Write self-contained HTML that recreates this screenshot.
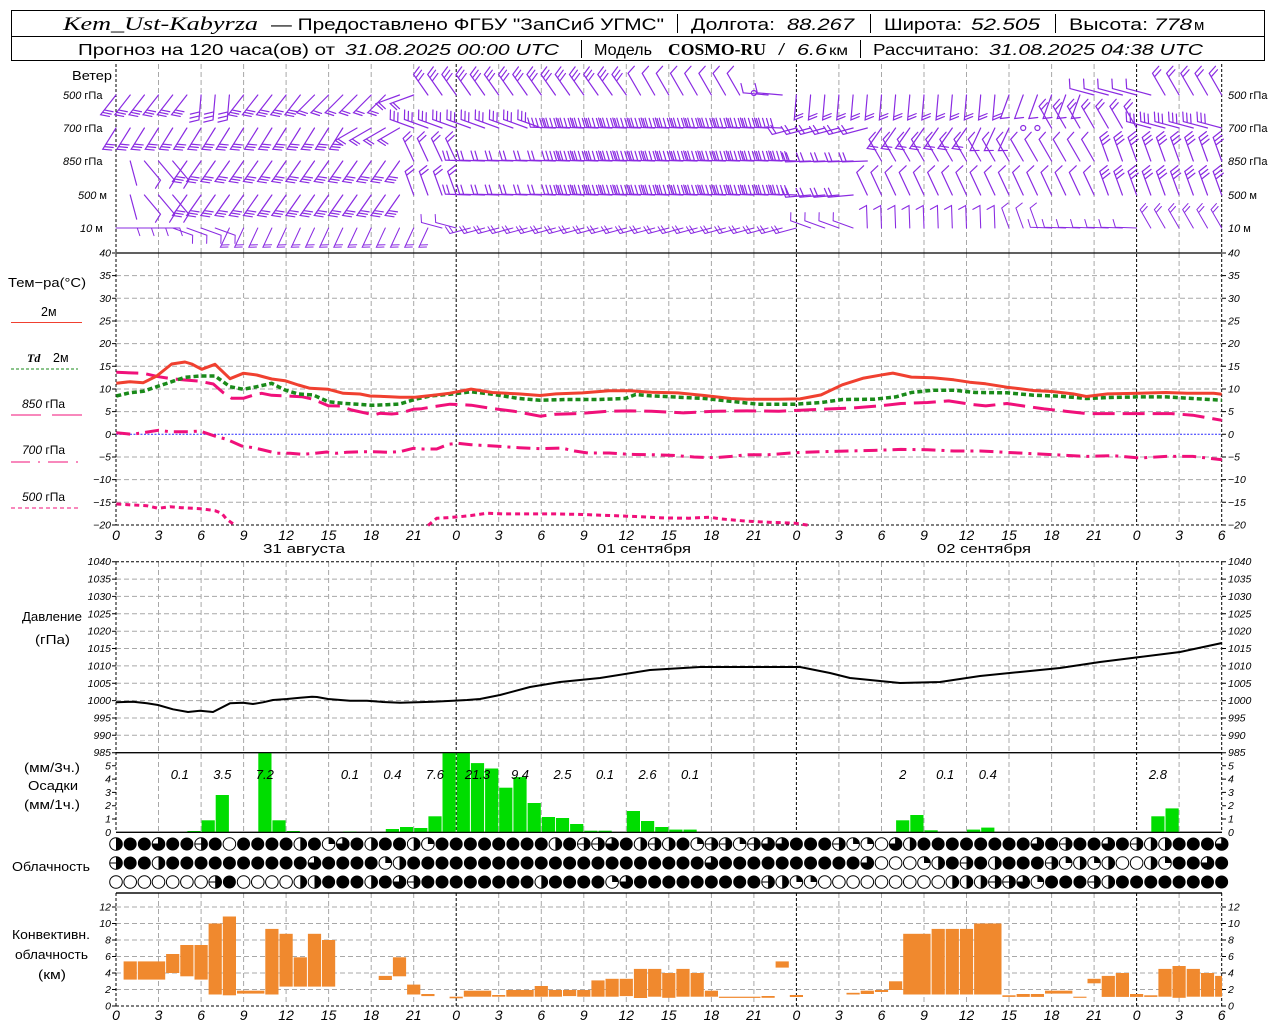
<!DOCTYPE html>
<html><head><meta charset="utf-8"><style>
body{margin:0;background:#fff}
svg{display:block}
text{font-family:"Liberation Sans",sans-serif;fill:#000}
.n{font-style:italic;font-size:10.5px}
.nr{font-style:italic;font-size:10.5px;text-anchor:end}
.h{font-style:italic;font-size:14px;text-anchor:middle}
.l{font-size:12.5px}
.g{stroke:#a8a8a8;stroke-dasharray:5 3;stroke-width:1;fill:none}
.d{stroke:#000;stroke-dasharray:3 2;stroke-width:1;fill:none}
.bb{stroke:#8a2be2;stroke-width:1.2;fill:none;stroke-linecap:round}
.pv{font-style:italic;font-size:13px;text-anchor:middle}
</style></head><body>
<svg width="1280" height="1024" viewBox="0 0 1280 1024" xmlns="http://www.w3.org/2000/svg">
<defs>
<path id="a0" d="M0 0H25"/>
<path id="a1" d="M0 0H25l-4-8"/>
<path id="a2" d="M0 0H25l-4-8M22 0l-4-8"/>
<path id="a3" d="M0 0H25l-4-8M22 0l-4-8M19 0l-4-8"/>
<path id="c1" d="M0 0H25l3 9"/>
<path id="c2" d="M0 0H25l3 9M21 0l3 9"/>
<path id="c3" d="M0 0H25l3 9M21 0l3 9M17 0l3 9"/>
<path id="c5" d="M0 0H25l3 9M21 0l3 9M17 0l3 9M13 0l3 9M9 0l3 9"/>
<g id="p1" transform="rotate(128)"><use href="#a3"/></g>
<g id="p2" transform="rotate(95)"><use href="#c3"/></g>
<g id="p3" transform="rotate(135)"><use href="#a2"/></g>
<g id="p4" transform="rotate(160)"><use href="#a2"/></g>
<g id="p5" transform="rotate(235)"><use href="#c3"/></g>
<g id="p6" transform="rotate(240)"><use href="#c1"/></g>
<g id="p7" transform="rotate(185)"><use href="#c1"/></g>
<g id="p8" transform="rotate(95)"><use href="#a2"/></g>
<g id="p9" transform="rotate(110)"><use href="#a1"/></g>
<g id="p10" transform="rotate(195)"><use href="#c1"/></g>
<g id="p11" transform="rotate(240)"><use href="#c2"/></g>
<g id="s1" transform="rotate(122)"><use href="#a3"/></g>
<g id="s2" transform="rotate(150)"><use href="#a2"/></g>
<g id="s3" transform="rotate(200)"><use href="#c3"/></g>
<g id="s4" transform="rotate(182)"><use href="#c5"/></g>
<g id="s5" transform="rotate(165)"><use href="#c2"/></g>
<g id="s6" transform="rotate(125)"><use href="#a2"/></g>
<g id="s7" transform="rotate(115)"><use href="#a1"/></g>
<g id="s8" transform="rotate(240)"><use href="#c2"/></g>
<g id="s9" transform="rotate(195)"><use href="#c3"/></g>
<g id="t0" transform="rotate(75)"><use href="#a0"/></g>
<g id="tb" transform="rotate(50)"><use href="#c1"/></g>
<g id="t1" transform="rotate(125)"><use href="#a3"/></g>
<g id="t2" transform="rotate(245)"><use href="#c2"/></g>
<g id="tc" transform="rotate(182)"><use href="#c2"/></g>
<g id="t3" transform="rotate(182)"><use href="#c5"/></g>
<g id="t4" transform="rotate(178)"><use href="#c2"/></g>
<g id="t5" transform="rotate(240)"><use href="#c1"/></g>
<g id="t6" transform="rotate(250)"><use href="#c3"/></g>
<g id="u2" transform="rotate(250)"><use href="#c2"/></g>
<g id="u4" transform="rotate(175)"><use href="#c2"/></g>
<g id="u5" transform="rotate(245)"><use href="#c1"/></g>
<g id="w1" transform="scale(0.85)"><use href="#c1"/></g>
<g id="w2" transform="rotate(20) scale(0.85)"><use href="#c1"/></g>
<g id="w3" transform="rotate(115) scale(0.85)"><use href="#a2"/></g>
<g id="w4" transform="rotate(195) scale(0.85)"><use href="#c1"/></g>
<g id="w5" transform="rotate(165) scale(0.85)"><use href="#c2"/></g>
<g id="w6" transform="rotate(200) scale(0.85)"><use href="#c1"/></g>
<g id="w7" transform="rotate(268) scale(0.9)"><use href="#a1"/></g>
<g id="w8" transform="rotate(250) scale(0.85)"><use href="#c1"/></g>
<g id="w9" transform="rotate(182) scale(0.85)"><use href="#c1"/></g>
<g id="w10" transform="rotate(240) scale(0.85)"><use href="#c2"/></g>
<g id="E"><circle r="6.3" fill="#fff" stroke="#000"/></g>
<g id="H"><circle r="6.3" fill="#fff" stroke="#000"/><path d="M0-6.3A6.3 6.3 0 0 1 0 6.3Z" fill="#000"/></g>
<g id="Q"><circle r="6.3" fill="#000" stroke="#000"/><path d="M0 0H-6.3A6.3 6.3 0 0 1 0-6.3Z" fill="#fff" stroke="#000"/></g>
<g id="q"><circle r="6.3" fill="#fff" stroke="#000"/><path d="M0 0V-6.3A6.3 6.3 0 0 1 6.3 0Z" fill="#000"/></g>
<g id="T"><circle r="6.3" fill="#fff" stroke="#000"/><path d="M0-6.3A6.3 6.3 0 0 1 0 6.3Z" fill="#000"/><path d="M-6.3 0H6.3" stroke="#000"/></g>
</defs>
<rect width="1280" height="1024" fill="#fff"/>

<!-- Header -->
<rect x="11.5" y="10.5" width="1253" height="50" fill="none" stroke="#000"/>
<path d="M11 36.5H1265" stroke="#000"/>
<text x="63" y="30" font-size="19" font-style="italic" textLength="195" lengthAdjust="spacingAndGlyphs" style="font-family:'Liberation Serif',serif">Kem_Ust-Kabyrza</text>
<text x="271" y="30" font-size="17" textLength="393" lengthAdjust="spacingAndGlyphs">— Предоставлено ФГБУ "ЗапСиб УГМС"</text>
<path d="M677.5 14V33M870.5 14V33M1055.5 14V33M581.5 40V58M860.5 40V58" stroke="#000"/>
<text x="691" y="30" font-size="17" textLength="84" lengthAdjust="spacingAndGlyphs">Долгота:</text>
<text x="787" y="30" font-size="17" font-style="italic" textLength="67" lengthAdjust="spacingAndGlyphs">88.267</text>
<text x="884" y="30" font-size="17" textLength="78" lengthAdjust="spacingAndGlyphs">Широта:</text>
<text x="971" y="30" font-size="17" font-style="italic" textLength="69" lengthAdjust="spacingAndGlyphs">52.505</text>
<text x="1069" y="30" font-size="17" textLength="79" lengthAdjust="spacingAndGlyphs">Высота:</text>
<text x="1154" y="30" font-size="17" font-style="italic" textLength="38" lengthAdjust="spacingAndGlyphs">778</text>
<text x="1194" y="30" font-size="15">м</text>
<text x="78" y="55" font-size="16" textLength="257" lengthAdjust="spacingAndGlyphs">Прогноз на 120 часа(ов) от</text>
<text x="345" y="55" font-size="16" font-style="italic" textLength="214" lengthAdjust="spacingAndGlyphs">31.08.2025 00:00 UTC</text>
<text x="594" y="55" font-size="16" textLength="58" lengthAdjust="spacingAndGlyphs">Модель</text>
<text x="668" y="55" font-size="17" font-weight="bold" textLength="98" lengthAdjust="spacingAndGlyphs" style="font-family:'Liberation Serif',serif">COSMO-RU</text>
<text x="779" y="55" font-size="17" font-style="italic">/</text>
<text x="797" y="55" font-size="16" font-style="italic" textLength="30" lengthAdjust="spacingAndGlyphs">6.6</text>
<text x="829" y="55" font-size="14" textLength="19" lengthAdjust="spacingAndGlyphs">км</text>
<text x="873" y="55" font-size="16" textLength="106" lengthAdjust="spacingAndGlyphs">Рассчитано:</text>
<text x="989" y="55" font-size="16" font-style="italic" textLength="214" lengthAdjust="spacingAndGlyphs">31.08.2025 04:38 UTC</text>

<!-- Vertical grids -->
<g class="g">
<path d="M158.5 64V253M201.1 64V253M243.6 64V253M286.1 64V253M328.6 64V253M371.2 64V253M413.7 64V253M498.7 64V253M541.3 64V253M583.8 64V253M626.3 64V253M668.8 64V253M711.4 64V253M753.9 64V253M838.9 64V253M881.5 64V253M924 64V253M966.5 64V253M1009 64V253M1051.6 64V253M1094.1 64V253M1179.1 64V253"/>
<path d="M158.5 253V525M201.1 253V525M243.6 253V525M286.1 253V525M328.6 253V525M371.2 253V525M413.7 253V525M498.7 253V525M541.3 253V525M583.8 253V525M626.3 253V525M668.8 253V525M711.4 253V525M753.9 253V525M838.9 253V525M881.5 253V525M924 253V525M966.5 253V525M1009 253V525M1051.6 253V525M1094.1 253V525M1179.1 253V525"/>
<path d="M158.5 562V832M201.1 562V832M243.6 562V832M286.1 562V832M328.6 562V832M371.2 562V832M413.7 562V832M498.7 562V832M541.3 562V832M583.8 562V832M626.3 562V832M668.8 562V832M711.4 562V832M753.9 562V832M838.9 562V832M881.5 562V832M924 562V832M966.5 562V832M1009 562V832M1051.6 562V832M1094.1 562V832M1179.1 562V832"/>
<path d="M158.5 893V1006M201.1 893V1006M243.6 893V1006M286.1 893V1006M328.6 893V1006M371.2 893V1006M413.7 893V1006M498.7 893V1006M541.3 893V1006M583.8 893V1006M626.3 893V1006M668.8 893V1006M711.4 893V1006M753.9 893V1006M838.9 893V1006M881.5 893V1006M924 893V1006M966.5 893V1006M1009 893V1006M1051.6 893V1006M1094.1 893V1006M1179.1 893V1006"/>
<path d="M116 275.6H1222M116 298.3H1222M116 321H1222M116 343.6H1222M116 366.3H1222M116 389H1222M116 411.6H1222M116 457H1222M116 479.6H1222M116 502.3H1222"/>
<path d="M116 579.1H1222M116 596.4H1222M116 613.8H1222M116 631.2H1222M116 648.5H1222M116 665.9H1222M116 683.3H1222M116 700.6H1222M116 718H1222M116 735.3H1222"/>
<path d="M116 907H1222M116 923.5H1222M116 940H1222M116 956.5H1222M116 973H1222M116 989.5H1222"/>
</g>
<!-- day lines / axes -->
<g class="d">
<path d="M116 64V525M456.2 64V525M796.4 64V525M1136.6 64V525M1221.7 64V525"/>
<path d="M116 562V832M456.2 562V832M796.4 562V832M1136.6 562V832M1221.7 562V832"/>
<path d="M116 893V1006M456.2 893V1006M796.4 893V1006M1136.6 893V1006M1221.7 893V1006"/>
<path d="M116 525H1222M116 561.7H1222M116 1006H1222"/>
</g>
<path d="M116 253H1222M116 752.7H1222M116 832.3H1222M116 893H1222" stroke="#000" stroke-width="1.2"/>
<path d="M116 434.3H1222" stroke="#2a2aff" stroke-dasharray="2 1.5"/>
<!-- ticks -->
<path stroke="#000" d="M112 253H116M112 275.6H116M112 298.3H116M112 321H116M112 343.6H116M112 366.3H116M112 389H116M112 411.6H116M112 434.3H116M112 457H116M112 479.6H116M112 502.3H116M112 525H116M1222 253H1226M1222 275.6H1226M1222 298.3H1226M1222 321H1226M1222 343.6H1226M1222 366.3H1226M1222 389H1226M1222 411.6H1226M1222 434.3H1226M1222 457H1226M1222 479.6H1226M1222 502.3H1226M1222 525H1226M112 561.7H116M112 579.1H116M112 596.4H116M112 613.8H116M112 631.2H116M112 648.5H116M112 665.9H116M112 683.3H116M112 700.6H116M112 718H116M112 735.3H116M112 752.7H116M1222 561.7H1226M1222 579.1H1226M1222 596.4H1226M1222 613.8H1226M1222 631.2H1226M1222 648.5H1226M1222 665.9H1226M1222 683.3H1226M1222 700.6H1226M1222 718H1226M1222 735.3H1226M1222 752.7H1226M112 765.8H116M112 779.1H116M112 792.4H116M112 805.7H116M112 819H116M1222 765.8H1226M1222 779.1H1226M1222 792.4H1226M1222 805.7H1226M1222 819H1226M112 907H116M112 923.5H116M112 940H116M112 956.5H116M112 973H116M112 989.5H116M112 1006H116M1222 907H1226M1222 923.5H1226M1222 940H1226M1222 956.5H1226M1222 973H1226M1222 989.5H1226M1222 1006H1226"/>

<!-- Wind labels -->
<text class="l" x="72" y="80" textLength="40" lengthAdjust="spacingAndGlyphs">Ветер</text>
<g font-size="11">
<text x="63" y="99"><tspan font-style="italic">500</tspan> гПа</text>
<text x="63" y="132"><tspan font-style="italic">700</tspan> гПа</text>
<text x="63" y="165"><tspan font-style="italic">850</tspan> гПа</text>
<text x="78" y="199"><tspan font-style="italic">500</tspan>  м</text>
<text x="80" y="232"><tspan font-style="italic">10</tspan>   м</text>
<text x="1228" y="99"><tspan font-style="italic">500</tspan> гПа</text>
<text x="1228" y="132"><tspan font-style="italic">700</tspan> гПа</text>
<text x="1228" y="165"><tspan font-style="italic">850</tspan> гПа</text>
<text x="1228" y="199"><tspan font-style="italic">500</tspan>  м</text>
<text x="1228" y="232"><tspan font-style="italic">10</tspan>   м</text>
</g>

<!-- Wind barbs -->
<g class="bb">
<g transform="translate(0,95)">
<use href="#p1" x="116"/><use href="#p1" x="130.2"/><use href="#p1" x="144.4"/><use href="#p1" x="158.5"/><use href="#p1" x="172.7"/><use href="#p1" x="186.9"/>
<use href="#p2" x="201.1"/><use href="#p2" x="215.2"/><use href="#p2" x="229.4"/><use href="#p1" x="243.6"/>
<use href="#p1" x="257.8"/><use href="#p1" x="271.9"/><use href="#p1" x="286.1"/><use href="#p1" x="300.3"/>
<use href="#p3" x="314.5"/><use href="#p3" x="328.6"/><use href="#p3" x="342.8"/><use href="#p3" x="357"/><use href="#p3" x="371.2"/><use href="#p3" x="385.3"/>
<use href="#p4" x="399.5"/><use href="#p4" x="413.7"/><use href="#p5" x="427.9"/><use href="#p5" x="442"/>
<use href="#p5" x="456.2"/><use href="#p5" x="470.4"/><use href="#p5" x="484.6"/><use href="#p5" x="498.7"/><use href="#p5" x="512.9"/><use href="#p5" x="527.1"/><use href="#p5" x="541.3"/><use href="#p5" x="555.4"/><use href="#p5" x="569.6"/><use href="#p5" x="583.8"/><use href="#p5" x="598"/><use href="#p5" x="612.1"/><use href="#p5" x="626.3"/>
<use href="#p6" x="640.5"/><use href="#p6" x="654.7"/><use href="#p6" x="668.8"/><use href="#p6" x="683"/><use href="#p6" x="697.2"/><use href="#p6" x="711.4"/><use href="#p6" x="725.5"/><use href="#p6" x="739.7"/>
<circle cx="753.9" cy="-2" r="2.5"/>
<use href="#p7" x="768.1"/><use href="#p7" x="782.2"/>
<use href="#p8" x="796.4"/><use href="#p8" x="810.6"/><use href="#p8" x="824.8"/><use href="#p8" x="838.9"/><use href="#p8" x="853.1"/><use href="#p8" x="867.3"/><use href="#p8" x="881.5"/><use href="#p8" x="895.6"/><use href="#p8" x="909.8"/><use href="#p8" x="924"/><use href="#p8" x="938.2"/><use href="#p8" x="952.3"/><use href="#p8" x="966.5"/><use href="#p8" x="980.7"/><use href="#p8" x="994.9"/>
<use href="#p9" x="1009"/><use href="#p9" x="1023.2"/><use href="#p9" x="1037.4"/><use href="#p9" x="1051.6"/><use href="#p9" x="1065.7"/><use href="#p9" x="1079.9"/>
<use href="#p10" x="1094.1"/><use href="#p10" x="1108.3"/><use href="#p10" x="1122.4"/><use href="#p10" x="1136.6"/><use href="#p10" x="1150.8"/>
<use href="#p11" x="1165"/><use href="#p11" x="1179.1"/><use href="#p11" x="1193.3"/><use href="#p11" x="1207.5"/><use href="#p11" x="1221.7"/>
</g>
<g transform="translate(0,128)">
<use href="#s1" x="116"/><use href="#s1" x="130.2"/><use href="#s1" x="144.4"/><use href="#s1" x="158.5"/><use href="#s1" x="172.7"/><use href="#s1" x="186.9"/><use href="#s1" x="201.1"/><use href="#s1" x="215.2"/><use href="#s1" x="229.4"/><use href="#s1" x="243.6"/><use href="#s1" x="257.8"/><use href="#s1" x="271.9"/><use href="#s1" x="286.1"/><use href="#s1" x="300.3"/><use href="#s1" x="314.5"/><use href="#s1" x="328.6"/><use href="#s1" x="342.8"/>
<use href="#s2" x="357"/><use href="#s2" x="371.2"/><use href="#s2" x="385.3"/><use href="#s2" x="399.5"/>
<use href="#s3" x="413.7"/><use href="#s3" x="427.9"/><use href="#s3" x="442"/>
<use href="#s3" x="456.2"/><use href="#s3" x="470.4"/><use href="#s3" x="484.6"/><use href="#s3" x="498.7"/><use href="#s3" x="512.9"/><use href="#s3" x="527.1"/><use href="#s3" x="541.3"/><use href="#s4" x="555.4"/><use href="#s4" x="569.6"/><use href="#s4" x="583.8"/><use href="#s4" x="598"/><use href="#s4" x="612.1"/><use href="#s4" x="626.3"/><use href="#s4" x="640.5"/><use href="#s4" x="654.7"/><use href="#s4" x="668.8"/><use href="#s4" x="683"/><use href="#s4" x="697.2"/><use href="#s4" x="711.4"/><use href="#s4" x="725.5"/><use href="#s4" x="739.7"/><use href="#s4" x="753.9"/><use href="#s4" x="768.1"/><use href="#s4" x="782.2"/>
<use href="#s5" x="796.4"/><use href="#s5" x="810.6"/><use href="#s5" x="824.8"/><use href="#s5" x="838.9"/><use href="#s5" x="853.1"/><use href="#s5" x="867.3"/>
<use href="#s6" x="881.5"/><use href="#s6" x="895.6"/><use href="#s6" x="909.8"/><use href="#s6" x="924"/><use href="#s6" x="938.2"/><use href="#s6" x="952.3"/><use href="#s6" x="966.5"/>
<use href="#s7" x="980.7"/><use href="#s7" x="994.9"/><use href="#s7" x="1009"/>
<circle cx="1023.2" cy="0" r="2.5"/><circle cx="1037.4" cy="0" r="2.5"/>
<use href="#s8" x="1051.6"/><use href="#s8" x="1065.7"/><use href="#s8" x="1079.9"/><use href="#s8" x="1094.1"/><use href="#s8" x="1108.3"/><use href="#s8" x="1122.4"/><use href="#s8" x="1136.6"/>
<use href="#s9" x="1150.8"/><use href="#s9" x="1165"/><use href="#s9" x="1179.1"/><use href="#s9" x="1193.3"/><use href="#s9" x="1207.5"/><use href="#s9" x="1221.7"/>
</g>
<g transform="translate(0,161)">
<use href="#t0" x="130.2"/><use href="#tb" x="144.4"/><use href="#tb" x="158.5"/><use href="#tb" x="172.7"/>
<use href="#t1" x="186.9"/><use href="#t1" x="201.1"/><use href="#t1" x="215.2"/><use href="#t1" x="229.4"/><use href="#t1" x="243.6"/><use href="#t1" x="257.8"/><use href="#t1" x="271.9"/><use href="#t1" x="286.1"/><use href="#t1" x="300.3"/><use href="#t1" x="314.5"/><use href="#t1" x="328.6"/><use href="#t1" x="342.8"/><use href="#t1" x="357"/><use href="#t1" x="371.2"/><use href="#t1" x="385.3"/><use href="#t1" x="399.5"/>
<use href="#t2" x="413.7"/><use href="#t2" x="427.9"/><use href="#t2" x="442"/>
<use href="#t2" x="456.2"/><use href="#tc" x="470.4"/><use href="#tc" x="484.6"/><use href="#tc" x="498.7"/><use href="#tc" x="512.9"/><use href="#tc" x="527.1"/><use href="#tc" x="541.3"/><use href="#tc" x="555.4"/><use href="#t3" x="569.6"/><use href="#t3" x="583.8"/><use href="#t3" x="598"/><use href="#t3" x="612.1"/><use href="#t3" x="626.3"/><use href="#t3" x="640.5"/><use href="#t3" x="654.7"/><use href="#t3" x="668.8"/><use href="#t3" x="683"/><use href="#t3" x="697.2"/><use href="#t3" x="711.4"/><use href="#t3" x="725.5"/><use href="#t3" x="739.7"/><use href="#t3" x="753.9"/><use href="#t3" x="768.1"/><use href="#t3" x="782.2"/><use href="#t3" x="796.4"/>
<use href="#t4" x="810.6"/><use href="#t4" x="824.8"/><use href="#t4" x="838.9"/><use href="#t4" x="853.1"/><use href="#t4" x="867.3"/>
<use href="#t5" x="881.5"/><use href="#t5" x="895.6"/><use href="#t5" x="909.8"/><use href="#t5" x="924"/><use href="#t5" x="938.2"/><use href="#t5" x="952.3"/><use href="#t5" x="966.5"/><use href="#t5" x="980.7"/><use href="#t5" x="994.9"/><use href="#t5" x="1009"/><use href="#t5" x="1023.2"/><use href="#t5" x="1037.4"/><use href="#t5" x="1051.6"/><use href="#t5" x="1065.7"/><use href="#t5" x="1079.9"/><use href="#t5" x="1094.1"/>
<use href="#t6" x="1108.3"/><use href="#t6" x="1122.4"/><use href="#t6" x="1136.6"/><use href="#t6" x="1150.8"/><use href="#t6" x="1165"/><use href="#t6" x="1179.1"/><use href="#t6" x="1193.3"/><use href="#t6" x="1207.5"/><use href="#t6" x="1221.7"/>
</g>
<g transform="translate(0,195)">
<use href="#t0" x="130.2"/><use href="#tb" x="144.4"/><use href="#tb" x="158.5"/><use href="#tb" x="172.7"/>
<use href="#t1" x="186.9"/><use href="#t1" x="201.1"/><use href="#t1" x="215.2"/><use href="#t1" x="229.4"/><use href="#t1" x="243.6"/><use href="#t1" x="257.8"/><use href="#t1" x="271.9"/><use href="#t1" x="286.1"/><use href="#t1" x="300.3"/><use href="#t1" x="314.5"/><use href="#t1" x="328.6"/><use href="#t1" x="342.8"/><use href="#t1" x="357"/><use href="#t1" x="371.2"/><use href="#t1" x="385.3"/><use href="#t1" x="399.5"/>
<use href="#u2" x="413.7"/><use href="#u2" x="427.9"/><use href="#u2" x="442"/>
<use href="#u2" x="456.2"/><use href="#tc" x="470.4"/><use href="#tc" x="484.6"/><use href="#tc" x="498.7"/><use href="#tc" x="512.9"/><use href="#tc" x="527.1"/><use href="#tc" x="541.3"/><use href="#tc" x="555.4"/><use href="#t3" x="569.6"/><use href="#t3" x="583.8"/><use href="#t3" x="598"/><use href="#t3" x="612.1"/><use href="#t3" x="626.3"/><use href="#t3" x="640.5"/><use href="#t3" x="654.7"/><use href="#t3" x="668.8"/><use href="#t3" x="683"/><use href="#t3" x="697.2"/><use href="#t3" x="711.4"/><use href="#t3" x="725.5"/><use href="#t3" x="739.7"/><use href="#t3" x="753.9"/><use href="#t3" x="768.1"/><use href="#t3" x="782.2"/><use href="#t3" x="796.4"/>
<use href="#u4" x="810.6"/><use href="#u4" x="824.8"/><use href="#u4" x="838.9"/><use href="#u4" x="853.1"/>
<use href="#u5" x="867.3"/><use href="#u5" x="881.5"/><use href="#u5" x="895.6"/><use href="#u5" x="909.8"/><use href="#u5" x="924"/><use href="#u5" x="938.2"/><use href="#u5" x="952.3"/><use href="#u5" x="966.5"/><use href="#u5" x="980.7"/><use href="#u5" x="994.9"/><use href="#u5" x="1009"/><use href="#u5" x="1023.2"/><use href="#u5" x="1037.4"/><use href="#u5" x="1051.6"/><use href="#u5" x="1065.7"/><use href="#u5" x="1079.9"/><use href="#u5" x="1094.1"/>
<use href="#t6" x="1108.3"/><use href="#t6" x="1122.4"/><use href="#t6" x="1136.6"/><use href="#t6" x="1150.8"/><use href="#t6" x="1165"/><use href="#t6" x="1179.1"/><use href="#t6" x="1193.3"/><use href="#t6" x="1207.5"/><use href="#t6" x="1221.7"/>
</g>
<g transform="translate(0,228)">
<use href="#w1" x="116"/><use href="#w1" x="130.2"/><use href="#w1" x="144.4"/><use href="#w1" x="158.5"/>
<use href="#w2" x="172.7"/><use href="#w2" x="186.9"/><use href="#w2" x="201.1"/><use href="#w2" x="215.2"/>
<use href="#w3" x="229.4"/><use href="#w3" x="243.6"/><use href="#w3" x="257.8"/><use href="#w3" x="271.9"/><use href="#w3" x="286.1"/><use href="#w3" x="300.3"/><use href="#w3" x="314.5"/><use href="#w3" x="328.6"/><use href="#w3" x="342.8"/><use href="#w3" x="357"/><use href="#w3" x="371.2"/><use href="#w3" x="385.3"/><use href="#w3" x="399.5"/><use href="#w3" x="413.7"/><use href="#w3" x="427.9"/>
<use href="#w4" x="442"/><use href="#w4" x="456.2"/>
<use href="#w5" x="470.4"/><use href="#w5" x="484.6"/><use href="#w5" x="498.7"/><use href="#w5" x="512.9"/><use href="#w5" x="527.1"/><use href="#w5" x="541.3"/><use href="#w5" x="555.4"/><use href="#w5" x="569.6"/><use href="#w5" x="583.8"/><use href="#w5" x="598"/><use href="#w5" x="612.1"/><use href="#w5" x="626.3"/><use href="#w5" x="640.5"/><use href="#w5" x="654.7"/><use href="#w5" x="668.8"/><use href="#w5" x="683"/><use href="#w5" x="697.2"/><use href="#w5" x="711.4"/><use href="#w5" x="725.5"/><use href="#w5" x="739.7"/><use href="#w5" x="753.9"/><use href="#w5" x="768.1"/><use href="#w5" x="782.2"/><use href="#w5" x="796.4"/>
<use href="#w6" x="810.6"/><use href="#w6" x="824.8"/><use href="#w6" x="838.9"/><use href="#w6" x="853.1"/>
<use href="#w7" x="867.3"/><use href="#w7" x="881.5"/><use href="#w7" x="895.6"/><use href="#w7" x="909.8"/><use href="#w7" x="924"/><use href="#w7" x="938.2"/><use href="#w7" x="952.3"/><use href="#w7" x="966.5"/><use href="#w7" x="980.7"/><use href="#w7" x="994.9"/>
<use href="#w8" x="1009"/><use href="#w8" x="1023.2"/><use href="#w8" x="1037.4"/>
<use href="#w9" x="1051.6"/><use href="#w9" x="1065.7"/><use href="#w9" x="1079.9"/><use href="#w9" x="1094.1"/><use href="#w9" x="1108.3"/><use href="#w9" x="1122.4"/><use href="#w9" x="1136.6"/>
<use href="#w10" x="1150.8"/><use href="#w10" x="1165"/><use href="#w10" x="1179.1"/><use href="#w10" x="1193.3"/><use href="#w10" x="1207.5"/><use href="#w10" x="1221.7"/>
</g>
</g>

<!-- Temperature labels & legend -->
<text x="8" y="287" font-size="13" textLength="78" lengthAdjust="spacingAndGlyphs">Тем−ра(°C)</text>
<text x="41" y="316" class="l">2м</text>
<path d="M11 322.5H82" stroke="#f04030" stroke-width="1"/>
<text x="27" y="362" font-size="12" font-style="italic" font-weight="bold" style="font-family:'Liberation Serif',serif">Td</text>
<text x="53" y="362" class="l">2м</text>
<path d="M11 369H78" stroke="#1a8a1a" stroke-dasharray="3 2"/>
<text x="22" y="408" font-size="12"><tspan font-style="italic">850</tspan> гПа</text>
<path d="M11 415H41M52 415H82" stroke="#f0107a"/>
<text x="22" y="454" font-size="12"><tspan font-style="italic">700</tspan> гПа</text>
<path d="M11 462H30M38 462H40M48 462H68M76 462H78" stroke="#f0107a"/>
<text x="22" y="501" font-size="12"><tspan font-style="italic">500</tspan> гПа</text>
<path d="M11 508H78" stroke="#f0107a" stroke-dasharray="4 3"/>

<g class="nr">
<text x="111" y="256.5">40</text><text x="111" y="279">35</text><text x="111" y="301.8">30</text><text x="111" y="324.5">25</text><text x="111" y="347">20</text><text x="111" y="369.8">15</text><text x="111" y="392.5">10</text><text x="111" y="415">5</text><text x="111" y="437.8">0</text><text x="111" y="460.5">−5</text><text x="111" y="483">−10</text><text x="111" y="505.8">−15</text><text x="111" y="528.5">−20</text>
<text x="111" y="565">1040</text><text x="111" y="582.5">1035</text><text x="111" y="600">1030</text><text x="111" y="617.3">1025</text><text x="111" y="634.7">1020</text><text x="111" y="652">1015</text><text x="111" y="669.4">1010</text><text x="111" y="686.8">1005</text><text x="111" y="704">1000</text><text x="111" y="721.5">995</text><text x="111" y="738.8">990</text><text x="111" y="756.2">985</text>
<text x="111" y="769.3">5</text><text x="111" y="782.6">4</text><text x="111" y="795.9">3</text><text x="111" y="809.2">2</text><text x="111" y="822.5">1</text><text x="111" y="835.8">0</text>
<text x="111" y="910.5">12</text><text x="111" y="927">10</text><text x="111" y="943.5">8</text><text x="111" y="960">6</text><text x="111" y="976.5">4</text><text x="111" y="993">2</text><text x="111" y="1009.5">0</text>
</g>
<g class="n">
<text x="1228" y="256.5">40</text><text x="1228" y="279">35</text><text x="1228" y="301.8">30</text><text x="1228" y="324.5">25</text><text x="1228" y="347">20</text><text x="1228" y="369.8">15</text><text x="1228" y="392.5">10</text><text x="1228" y="415">5</text><text x="1228" y="437.8">0</text><text x="1228" y="460.5">−5</text><text x="1228" y="483">−10</text><text x="1228" y="505.8">−15</text><text x="1228" y="528.5">−20</text>
<text x="1228" y="565">1040</text><text x="1228" y="582.5">1035</text><text x="1228" y="600">1030</text><text x="1228" y="617.3">1025</text><text x="1228" y="634.7">1020</text><text x="1228" y="652">1015</text><text x="1228" y="669.4">1010</text><text x="1228" y="686.8">1005</text><text x="1228" y="704">1000</text><text x="1228" y="721.5">995</text><text x="1228" y="738.8">990</text><text x="1228" y="756.2">985</text>
<text x="1228" y="769.3">5</text><text x="1228" y="782.6">4</text><text x="1228" y="795.9">3</text><text x="1228" y="809.2">2</text><text x="1228" y="822.5">1</text><text x="1228" y="835.8">0</text>
<text x="1228" y="910.5">12</text><text x="1228" y="927">10</text><text x="1228" y="943.5">8</text><text x="1228" y="960">6</text><text x="1228" y="976.5">4</text><text x="1228" y="993">2</text><text x="1228" y="1009.5">0</text>
</g>

<!-- temperature curves -->
<g fill="none" stroke-linejoin="round">
<polyline stroke="#f0107a" stroke-width="3" stroke-dasharray="5 4" points="116.3,504 133.3,505 146.7,505.7 158.3,508.3 170,506.7 181.7,507.7 193.3,508.3 203.3,509 215,510.7 221.7,513.3 226.7,519.3 233.3,524 236,525.5"/>
<polyline stroke="#f0107a" stroke-width="3" stroke-dasharray="5 4" points="428,525.5 436.7,518.3 446.7,517.7 460,516.7 471.2,515.5 487.1,513.2 503,513.9 529.6,513.9 556.1,513.9 582.6,514.5 609.2,515.5 635.7,516.5 662.2,517.9 688.7,518.2 709.9,517.2 720.6,518.9 747.1,521.2 768.3,522.2 794.8,523.2 810.7,525.6"/>
<polyline stroke="#f0107a" stroke-width="3" stroke-dasharray="14 6 3 6" points="116.3,432.7 131.7,434.3 143.3,432.7 158.3,430.3 170,431.7 190,431.7 200,431 206.7,433.3 216.7,436.7 226.7,439.3 241.7,446 253.3,447.7 263.3,450 276.7,453.3 290,453.3 301.7,454.3 315,453.3 326.7,452 336.7,453.3 346.7,452.3 361.7,451.7 373.3,451.7 388.3,452.3 400,451.7 413.3,448.3 423.3,449 436.7,449 448.3,444.3 458.3,443.3 471.2,444.7 497.7,446.3 519,447.7 540.2,448.7 561.4,448 574.7,451 587.9,453 609.2,453 630.4,454.4 651.6,454.7 672.8,455.4 694,457 715.3,457.7 731.2,456.4 747.1,454.7 768.3,454.7 794.8,452.7 821.4,451.7 847.9,451 874.4,450.4 900.9,449.4 927.5,449.7 954,451 980.5,451 1007,452.4 1033.5,453.7 1060.1,455 1086.6,456.4 1113.1,455.7 1139.7,458 1166.2,456.4 1192.7,456.4 1221.9,459.7"/>
<polyline stroke="#f0107a" stroke-width="3" stroke-dasharray="22 8" points="116.3,372.3 143.3,373.3 158.3,376.7 171.7,378.7 185,380 198.3,381 213.3,384 223.3,392.7 231.7,398.3 243.3,398.3 256.7,394 261.7,393.3 271.7,395.3 286.7,396 301.7,396.7 313.3,399.3 328.3,405.7 340,406 351.7,410 366.7,413.3 373.3,415 380,413.3 391.7,414 400,413.3 413.3,409.3 421.7,408.7 433.3,406.7 450,404.2 471.2,405.2 492.4,408.6 513.7,411.2 540.2,416.2 556.1,414.2 577.3,413.6 609.2,411.2 630.4,410.9 651.6,411.2 683.4,412.9 715.3,411.2 747.1,410.9 778.9,411.2 800.1,410.2 821.4,409.2 853.2,407.9 879.7,405.9 900.9,403.5 927.5,402.5 948.7,400.9 969.9,404.2 985.8,405.9 1007,403.5 1022.9,405.9 1044.2,408.9 1065.4,411.2 1086.6,413.6 1118.4,413.6 1150.3,413.6 1171.5,413.6 1192.7,415.2 1221.9,420.3"/>
<polyline stroke="#1a8a1a" stroke-width="3.5" stroke-dasharray="5 3" points="116.3,396 130,392.7 143.3,391.3 156.7,386.7 171.7,381.7 185,377.3 200,376 215,376 230,386.7 243.3,389.3 256.7,386.7 271.7,383.3 285,390 298.3,394 313.3,395 328.3,401.7 343.3,403.3 358.3,404.3 371.7,405.3 386.7,404.7 400,404 415,399.3 430,396 450,394.2 471.2,391.8 492.4,394.2 519,398.5 540.2,400.2 566.7,399.5 598.5,399.5 625.1,398.5 635.7,394.5 651.6,395.9 672.8,396.9 704.6,398.5 736.5,401.9 757.7,404.2 794.8,404.2 821.4,402.5 842.6,399.5 874.4,399.2 895.6,396.9 911.5,392.5 932.8,390.2 954,390.2 975.2,392.5 1007,392.8 1033.5,395.2 1060.1,396.2 1086.6,398.5 1107.8,397.5 1139.7,396.9 1166.2,396.9 1192.7,398.5 1221.9,400.2"/>
<polyline stroke="#f04030" stroke-width="3" points="116.3,383.3 130,381.7 143.3,382.7 156.7,376 171.7,364 185,362 191.7,364 201.7,369.3 215,364.3 230,378.7 243.3,373.3 256.7,375 271.7,379 285,380.7 298.3,385 310,388.3 328.3,389.3 343.3,393.3 360,394 370,396 390,396.7 400,397.3 415,397.3 433.3,395.3 449.8,393.2 471.1,389.1 492.3,392.5 518.8,393.9 540.1,395.5 556,393.9 582.5,392.9 609,390.8 630.3,390.8 651.4,392.2 677.9,392.9 704.4,395.5 730.9,398.5 746.9,399.2 778.7,399.2 800,398.9 821.1,394.9 842.3,384.8 863.6,378.1 882.2,374.8 892.8,373.1 911.4,377.1 932.5,377.8 953.7,379.8 969.6,382.2 985.6,383.8 1006.9,387.2 1020.1,388.8 1033.4,390.5 1052,391.5 1073.1,393.9 1086.4,396.5 1107.7,393.9 1139.4,393.2 1165.9,392.5 1187.2,393.2 1213.7,393.2 1221.7,394.2"/>
</g>

<!-- hour labels -->
<g class="h">
<text x="116" y="540">0</text><text x="158.5" y="540">3</text><text x="201.1" y="540">6</text><text x="243.6" y="540">9</text><text x="286.1" y="540">12</text><text x="328.6" y="540">15</text><text x="371.2" y="540">18</text><text x="413.7" y="540">21</text><text x="456.2" y="540">0</text><text x="498.7" y="540">3</text><text x="541.3" y="540">6</text><text x="583.8" y="540">9</text><text x="626.3" y="540">12</text><text x="668.8" y="540">15</text><text x="711.4" y="540">18</text><text x="753.9" y="540">21</text><text x="796.4" y="540">0</text><text x="838.9" y="540">3</text><text x="881.5" y="540">6</text><text x="924" y="540">9</text><text x="966.5" y="540">12</text><text x="1009" y="540">15</text><text x="1051.6" y="540">18</text><text x="1094.1" y="540">21</text><text x="1136.6" y="540">0</text><text x="1179.1" y="540">3</text><text x="1221.7" y="540">6</text>
<text x="116" y="1020">0</text><text x="158.5" y="1020">3</text><text x="201.1" y="1020">6</text><text x="243.6" y="1020">9</text><text x="286.1" y="1020">12</text><text x="328.6" y="1020">15</text><text x="371.2" y="1020">18</text><text x="413.7" y="1020">21</text><text x="456.2" y="1020">0</text><text x="498.7" y="1020">3</text><text x="541.3" y="1020">6</text><text x="583.8" y="1020">9</text><text x="626.3" y="1020">12</text><text x="668.8" y="1020">15</text><text x="711.4" y="1020">18</text><text x="753.9" y="1020">21</text><text x="796.4" y="1020">0</text><text x="838.9" y="1020">3</text><text x="881.5" y="1020">6</text><text x="924" y="1020">9</text><text x="966.5" y="1020">12</text><text x="1009" y="1020">15</text><text x="1051.6" y="1020">18</text><text x="1094.1" y="1020">21</text><text x="1136.6" y="1020">0</text><text x="1179.1" y="1020">3</text><text x="1221.7" y="1020">6</text>
</g>
<text x="263" y="553" font-size="13" textLength="82" lengthAdjust="spacingAndGlyphs">31 августа</text>
<text x="597" y="553" font-size="13" textLength="94" lengthAdjust="spacingAndGlyphs">01 сентября</text>
<text x="937" y="553" font-size="13" textLength="94" lengthAdjust="spacingAndGlyphs">02 сентября</text>

<!-- Pressure -->
<text x="22" y="621" font-size="13" textLength="60" lengthAdjust="spacingAndGlyphs">Давление</text>
<text x="35" y="644" font-size="13" textLength="35" lengthAdjust="spacingAndGlyphs">(гПа)</text>
<polyline fill="none" stroke="#000" stroke-width="2" stroke-linejoin="round" points="116,702.3 133,701.7 147,703.3 158,705 173,709.3 188,712 200,710.7 213,712 230,703.3 243,702.7 253,704 263,702.3 273,700 287,699 300,697.7 312,696.7 317,697 328,699 350,700.7 367,700.7 383,702 400,702.7 417,702.3 433,701.7 453,700.7 467,700 480,699 500,695 530,687 560,682 600,678 650,670 700,667 800,667 830,673 850,678 880,681 900,683 940,682 960,679 980,676 1020,672 1060,668 1100,662 1140,657 1180,652 1222,643"/>

<!-- Precipitation -->
<text x="24" y="772" font-size="12.5" textLength="56" lengthAdjust="spacingAndGlyphs">(мм/3ч.)</text>
<text x="28" y="790" font-size="12.5" textLength="50" lengthAdjust="spacingAndGlyphs">Осадки</text>
<text x="24" y="809" font-size="12.5" textLength="56" lengthAdjust="spacingAndGlyphs">(мм/1ч.)</text>
<g fill="#00dd00">
<rect x="187.4" y="831" width="13.2" height="1.3"/><rect x="201.6" y="820.3" width="13.2" height="12"/><rect x="215.7" y="795" width="13.2" height="37.3"/><rect x="258.3" y="753" width="13.2" height="79.3"/><rect x="272.4" y="820.3" width="13.2" height="12"/><rect x="286.6" y="831" width="13.2" height="1.3"/><rect x="343.3" y="831.5" width="13.2" height="0.8"/><rect x="385.8" y="829" width="13.2" height="3.3"/><rect x="400" y="827" width="13.2" height="5.3"/><rect x="414.2" y="828" width="13.2" height="4.3"/><rect x="428.4" y="816.3" width="13.2" height="16"/><rect x="442.5" y="753" width="13.2" height="79.3"/><rect x="456.7" y="753" width="13.2" height="79.3"/><rect x="470.9" y="763.1" width="13.2" height="69.2"/><rect x="485.1" y="768.5" width="13.2" height="63.8"/><rect x="499.2" y="787.7" width="13.2" height="44.6"/><rect x="513.4" y="777.1" width="13.2" height="55.2"/><rect x="527.6" y="803" width="13.2" height="29.3"/><rect x="541.8" y="817" width="13.2" height="15.3"/><rect x="555.9" y="818" width="13.2" height="14.3"/><rect x="570.1" y="824" width="13.2" height="8.3"/><rect x="584.3" y="830.7" width="13.2" height="1.6"/><rect x="598.5" y="830.7" width="13.2" height="1.6"/><rect x="626.8" y="811" width="13.2" height="21.3"/><rect x="641" y="821" width="13.2" height="11.3"/><rect x="655.2" y="827" width="13.2" height="5.3"/><rect x="669.3" y="829.6" width="13.2" height="2.7"/><rect x="683.5" y="829.6" width="13.2" height="2.7"/><rect x="896.1" y="820.3" width="13.2" height="12"/><rect x="910.3" y="815" width="13.2" height="17.3"/><rect x="924.5" y="830.3" width="13.2" height="2"/><rect x="967" y="829.6" width="13.2" height="2.7"/><rect x="981.2" y="827.6" width="13.2" height="4.7"/><rect x="1151.3" y="816.3" width="13.2" height="16"/><rect x="1165.5" y="808.4" width="13.2" height="23.9"/>
</g>
<path d="M116 752.7H1222M116 832.3H1222" stroke="#000" stroke-width="1.2"/>
<g class="pv">
<text x="179.8" y="779">0.1</text><text x="222.3" y="779">3.5</text><text x="264.8" y="779">7.2</text><text x="349.9" y="779">0.1</text><text x="392.4" y="779">0.4</text><text x="434.9" y="779">7.6</text><text x="477.5" y="779">21.3</text><text x="520" y="779">9.4</text><text x="562.5" y="779">2.5</text><text x="605" y="779">0.1</text><text x="647.6" y="779">2.6</text><text x="690.1" y="779">0.1</text><text x="902.7" y="779">2</text><text x="945.2" y="779">0.1</text><text x="987.8" y="779">0.4</text><text x="1157.9" y="779">2.8</text>
</g>

<!-- Cloudiness -->
<text x="12" y="871" font-size="12.5" textLength="78" lengthAdjust="spacingAndGlyphs">Облачность</text>
<g stroke="#000" stroke-width="13" stroke-linecap="round" stroke-dasharray="0 14.175" fill="none">
<path d="M116 844H1222.5"/><path d="M116 863H1222.5"/><path d="M116 882H1222.5"/>
</g>
<g transform="translate(0,844)">
<use href="#H" x="116"/><use href="#Q" x="158.5"/><use href="#T" x="201.1"/><use href="#E" x="229.4"/><use href="#H" x="300.3"/><use href="#q" x="328.6"/><use href="#Q" x="342.8"/><use href="#H" x="371.2"/><use href="#H" x="413.7"/><use href="#q" x="427.9"/><use href="#H" x="555.4"/><use href="#T" x="583.8"/><use href="#T" x="598"/><use href="#Q" x="612.1"/><use href="#H" x="640.5"/><use href="#T" x="654.7"/><use href="#H" x="668.8"/><use href="#q" x="697.2"/><use href="#T" x="711.4"/><use href="#T" x="725.5"/><use href="#q" x="739.7"/><use href="#T" x="753.9"/><use href="#Q" x="768.1"/><use href="#Q" x="782.2"/><use href="#T" x="838.9"/><use href="#q" x="853.1"/><use href="#q" x="867.3"/><use href="#E" x="881.5"/><use href="#Q" x="895.6"/><use href="#H" x="909.8"/><use href="#Q" x="1037.4"/><use href="#T" x="1065.7"/><use href="#Q" x="1108.3"/><use href="#T" x="1136.6"/><use href="#H" x="1150.8"/><use href="#H" x="1165"/><use href="#Q" x="1221.7"/>
</g>
<g transform="translate(0,863)">
<use href="#T" x="116"/><use href="#H" x="158.5"/><use href="#Q" x="314.5"/><use href="#q" x="385.3"/><use href="#H" x="399.5"/><use href="#Q" x="711.4"/><use href="#Q" x="867.3"/><use href="#E" x="881.5"/><use href="#E" x="895.6"/><use href="#E" x="909.8"/><use href="#q" x="924"/><use href="#H" x="938.2"/><use href="#T" x="966.5"/><use href="#H" x="994.9"/><use href="#T" x="1051.6"/><use href="#q" x="1065.7"/><use href="#H" x="1079.9"/><use href="#q" x="1094.1"/><use href="#H" x="1108.3"/><use href="#E" x="1122.4"/><use href="#E" x="1136.6"/><use href="#H" x="1150.8"/><use href="#q" x="1165"/><use href="#Q" x="1207.5"/>
</g>
<g transform="translate(0,882)">
<use href="#E" x="116"/><use href="#E" x="130.2"/><use href="#E" x="144.4"/><use href="#E" x="158.5"/><use href="#E" x="172.7"/><use href="#E" x="186.9"/><use href="#E" x="201.1"/><use href="#T" x="215.2"/><use href="#E" x="243.6"/><use href="#E" x="257.8"/><use href="#E" x="271.9"/><use href="#E" x="286.1"/><use href="#H" x="300.3"/><use href="#H" x="314.5"/><use href="#H" x="371.2"/><use href="#Q" x="399.5"/><use href="#T" x="413.7"/><use href="#H" x="541.3"/><use href="#q" x="612.1"/><use href="#Q" x="626.3"/><use href="#T" x="768.1"/><use href="#H" x="782.2"/><use href="#q" x="796.4"/><use href="#q" x="810.6"/><use href="#E" x="824.8"/><use href="#E" x="838.9"/><use href="#E" x="853.1"/><use href="#E" x="867.3"/><use href="#E" x="881.5"/><use href="#E" x="895.6"/><use href="#E" x="909.8"/><use href="#E" x="924"/><use href="#E" x="938.2"/><use href="#H" x="952.3"/><use href="#H" x="966.5"/><use href="#H" x="980.7"/><use href="#T" x="994.9"/><use href="#T" x="1009"/><use href="#Q" x="1023.2"/><use href="#q" x="1037.4"/><use href="#T" x="1094.1"/><use href="#H" x="1108.3"/>
</g>
<path d="M116 893H1222" stroke="#000" stroke-width="1.2"/>

<!-- Convective cloudiness -->
<text x="12" y="939" font-size="12.5" textLength="78" lengthAdjust="spacingAndGlyphs">Конвективн.</text>
<text x="15" y="959" font-size="12.5" textLength="73" lengthAdjust="spacingAndGlyphs">облачность</text>
<text x="38" y="979" font-size="12.5" textLength="28" lengthAdjust="spacingAndGlyphs">(км)</text>
<g fill="#f0892e">
<rect x="123.6" y="961.4" width="13.2" height="18.2"/><rect x="137.8" y="961.4" width="27.4" height="18.2"/><rect x="166.1" y="954" width="13.2" height="19"/><rect x="180.3" y="945" width="13.2" height="31.3"/><rect x="194.5" y="945" width="13.2" height="34.6"/><rect x="208.6" y="923.5" width="13.2" height="71"/><rect x="222.8" y="916.5" width="13.2" height="78.8"/><rect x="237" y="990.7" width="27.4" height="2.9"/><rect x="265.3" y="928.9" width="13.2" height="65.6"/><rect x="279.5" y="933.8" width="13.2" height="52.8"/><rect x="293.7" y="957.3" width="13.2" height="29.3"/><rect x="307.9" y="933.8" width="13.2" height="52.8"/><rect x="322" y="940" width="13.2" height="46.6"/><rect x="378.7" y="975.9" width="13.2" height="4.1"/><rect x="392.9" y="957.3" width="13.2" height="19"/><rect x="407.1" y="984.6" width="13.2" height="9.9"/><rect x="421.3" y="994" width="13.2" height="2.1"/><rect x="449.6" y="996.7" width="13.2" height="1.6"/><rect x="463.8" y="990.7" width="27.4" height="6"/><rect x="492.1" y="995" width="13.2" height="1.7"/><rect x="506.3" y="990" width="27.4" height="6.7"/><rect x="534.7" y="986" width="13.2" height="10.7"/><rect x="548.8" y="990" width="13.2" height="6.7"/><rect x="563" y="990" width="13.2" height="6.1"/><rect x="577.2" y="990" width="13.2" height="6.7"/><rect x="591.4" y="980.4" width="13.2" height="16.3"/><rect x="605.5" y="978.8" width="13.2" height="17.9"/><rect x="619.7" y="978.8" width="13.2" height="17.3"/><rect x="633.9" y="968.9" width="13.2" height="29.1"/><rect x="648.1" y="968.9" width="13.2" height="27.8"/><rect x="662.2" y="973" width="13.2" height="24.8"/><rect x="676.4" y="968.9" width="13.2" height="27.8"/><rect x="690.6" y="973" width="13.2" height="23.7"/><rect x="704.8" y="990.7" width="13.2" height="6"/><rect x="718.9" y="996.7" width="41.6" height="1.2"/><rect x="761.5" y="996" width="13.2" height="1.8"/><rect x="775.6" y="961.4" width="13.2" height="6.2"/><rect x="789.8" y="995" width="13.2" height="2"/><rect x="846.5" y="992.8" width="13.2" height="1.7"/><rect x="860.7" y="990.7" width="13.2" height="3.3"/><rect x="874.9" y="990" width="13.2" height="2"/><rect x="889" y="981.3" width="13.2" height="8.7"/><rect x="903.2" y="933.8" width="27.4" height="60.7"/><rect x="931.6" y="928.9" width="13.2" height="65.6"/><rect x="945.7" y="928.9" width="13.2" height="65.6"/><rect x="959.9" y="928.9" width="13.2" height="65.6"/><rect x="974.1" y="923.5" width="27.4" height="71"/><rect x="1002.4" y="995.3" width="13.2" height="1.6"/><rect x="1016.6" y="994" width="13.2" height="2.9"/><rect x="1030.8" y="994" width="13.2" height="2.9"/><rect x="1045" y="990.7" width="27.4" height="2.9"/><rect x="1073.3" y="996.7" width="13.2" height="1.1"/><rect x="1087.5" y="978.8" width="13.2" height="4.5"/><rect x="1101.7" y="975.9" width="13.2" height="21"/><rect x="1115.8" y="973" width="13.2" height="23.9"/><rect x="1130" y="994" width="13.2" height="2.9"/><rect x="1144.2" y="995.3" width="13.2" height="1.6"/><rect x="1158.4" y="968.9" width="13.2" height="27.8"/><rect x="1172.5" y="966" width="13.2" height="31.8"/><rect x="1186.7" y="968.9" width="13.2" height="27.8"/><rect x="1200.9" y="973" width="13.2" height="23.7"/><rect x="1215.1" y="975.9" width="6.9" height="20.8"/>
</g>
</svg>
</body></html>
